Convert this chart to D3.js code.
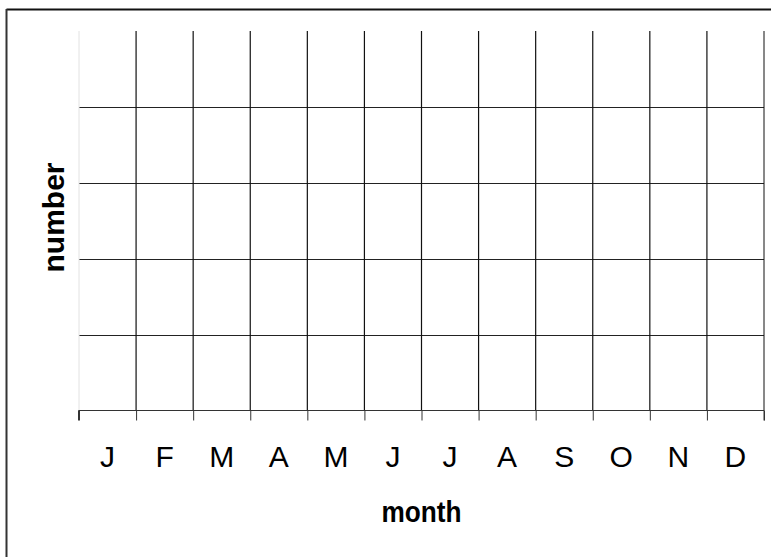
<!DOCTYPE html>
<html>
<head>
<meta charset="utf-8">
<script src="https://cdn.jsdelivr.net/npm/d3@7"></script>
<style>
  body { margin: 0; background: #fff; }
  svg { display: block; font-family: Arial, "Liberation Sans", sans-serif; }
</style>
</head>
<body>
<svg id="chart" width="771" height="557"></svg>
<script>
// Dados do gráfico (grade vazia: nenhuma série desenhada)
const months = ["J", "F", "M", "A", "M", "J", "J", "A", "S", "O", "N", "D"];
const yTicks = [1, 2, 3, 4];
const yDomain = [0, 5];
const xTitle = "month";
const yTitle = "number";

const svg = d3.select("#chart");

const plotLeft = 79, plotRight = 764, plotTop = 31, plotBottom = 410.5;

// posições das bordas dos meses
const x = d3.scaleLinear().domain([0, months.length]).range([plotLeft, plotRight]);
const xBand = d3.scaleBand().domain(d3.range(months.length)).range([plotLeft, plotRight]);
const y = d3.scaleLinear().domain(yDomain).range([plotBottom, plotTop]);

// moldura (só topo e esquerda)
svg.append("line")
  .attr("x1", 6.5).attr("x2", 771).attr("y1", 9.5).attr("y2", 9.5)
  .attr("stroke", "#111").attr("stroke-width", 2);
svg.append("line")
  .attr("x1", 6.5).attr("x2", 6.5).attr("y1", 9).attr("y2", 557)
  .attr("stroke", "#333").attr("stroke-width", 2);

// linhas horizontais
svg.selectAll("line.hgrid")
  .data(yTicks)
  .enter()
  .append("line")
  .attr("class", "hgrid")
  .attr("x1", plotLeft).attr("x2", plotRight)
  .attr("y1", d => Math.round(y(d)) + 0.5)
  .attr("y2", d => Math.round(y(d)) + 0.5)
  .attr("stroke", "#222").attr("stroke-width", 1);

// linhas verticais
svg.selectAll("line.vgrid")
  .data(d3.range(months.length + 1))
  .enter()
  .append("line")
  .attr("class", "vgrid")
  .attr("x1", d => x(d)).attr("x2", d => x(d))
  .attr("y1", plotTop).attr("y2", plotBottom)
  .attr("stroke", d => d === 0 ? "#e2e2e2" : "#111")
  .attr("stroke-width", d => d === 0 || d === months.length ? 1 : 1.2);

// eixo x
const xAxis = d3.axisBottom(x)
  .tickValues(d3.range(months.length + 1))
  .tickSize(10)
  .tickFormat("");

svg.append("g")
  .attr("transform", `translate(0,${plotBottom})`)
  .call(xAxis)
  .call(g => g.select(".domain").attr("stroke", "#333").attr("d", `M${plotLeft - 0.5},10V0H${plotRight}V10`))
  .call(g => g.selectAll(".tick line").attr("stroke", "#333"));

// rótulos dos meses
svg.selectAll("text.month")
  .data(months)
  .enter()
  .append("text")
  .attr("class", "month")
  .attr("x", (d, i) => xBand(i) + xBand.bandwidth() / 2)
  .attr("y", 466.5)
  .attr("text-anchor", "middle")
  .attr("font-size", 30)
  .attr("fill", "#000")
  .text(d => d);

// títulos
svg.append("text")
  .attr("x", (plotLeft + plotRight) / 2)
  .attr("y", 521.5)
  .attr("text-anchor", "middle")
  .attr("font-size", 30)
  .attr("font-weight", "bold")
  .attr("textLength", 80)
  .attr("lengthAdjust", "spacingAndGlyphs")
  .text(xTitle);

svg.append("text")
  .attr("transform", "translate(63.5,217.5) rotate(-90)")
  .attr("text-anchor", "middle")
  .attr("font-size", 30)
  .attr("font-weight", "bold")
  .text(yTitle);
</script>
</body>
</html>
